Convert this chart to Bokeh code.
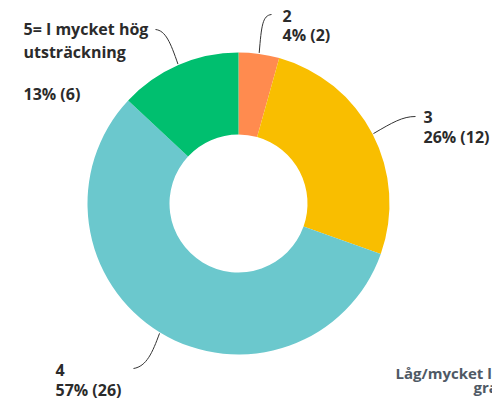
import math
from bokeh.plotting import figure
from bokeh.models import Range1d
from bokeh.core.properties import value
from bokeh.embed import file_html
from bokeh.resources import INLINE

# ---- data ----
categories = ["2", "3", "4", "5= I mycket hög utsträckning"]
counts = [2, 12, 26, 6]
colors = ["#FF8B4F", "#F9BE00", "#6BC8CD", "#00BF6F"]
side_text_lines = ["Låg/mycket låg", "grad"]

W, H = 492, 401
SHIFT = -5.5  # correction for rendered baseline offset


def X(sx):
    return sx


def Y(sy):
    return H - sy


p = figure(width=W, height=H, output_backend="svg", toolbar_location=None,
           x_range=Range1d(0, W), y_range=Range1d(0, H),
           x_axis_type=None, y_axis_type=None, min_border=0)
p.grid.visible = False
p.outline_line_color = None
p.background_fill_color = "white"
p.border_fill_color = "white"

cx, cy = X(238), Y(203)
r_out, r_in = 151, 69
total = sum(counts)
starts, ends, mids = [], [], []
cum = 0
for c in counts:
    a0 = math.pi / 2 - 2 * math.pi * cum / total
    cum += c
    a1 = math.pi / 2 - 2 * math.pi * cum / total
    starts.append(a0)
    ends.append(a1)
    mids.append((a0 + a1) / 2)

p.annular_wedge(x=[cx] * len(counts), y=[cy] * len(counts),
                inner_radius=r_in, outer_radius=r_out,
                start_angle=starts, end_angle=ends, direction="clock",
                fill_color=colors, line_color=None)

pct = [f"{round(100 * c / total)}% ({c})" for c in counts]

# label layout (screen coords): leader controls/end, text anchor, baselines
layout = [
    dict(c0=(261, 25), c1=(262, 15), end=(271, 14), tx=282, lines=[(20.5, categories[0]), (39.5, pct[0])]),
    dict(c0=(392, 122), c1=(402, 116), end=(415, 116), tx=423, lines=[(122.3, categories[1]), (141.7, pct[1])]),
    dict(c0=(152, 352), c1=(146, 366), end=(133, 368), tx=55, lines=[(374.5, categories[2]), (395, pct[2])]),
    dict(c0=(170, 42), c1=(165, 30), end=(155, 29), tx=23,
         lines=[(34.3, "5= I mycket hög"), (57, "utsträckning"), (98.7, pct[3])]),
]

FS = 16
for m, lay in zip(mids, layout):
    x0 = cx + (r_out + 1) * math.cos(m)
    y0 = cy + (r_out + 1) * math.sin(m)
    p.bezier(x0=[x0], y0=[y0],
             cx0=[X(lay["c0"][0])], cy0=[Y(lay["c0"][1])],
             cx1=[X(lay["c1"][0])], cy1=[Y(lay["c1"][1])],
             x1=[X(lay["end"][0])], y1=[Y(lay["end"][1])],
             line_color="#333333", line_width=1)
    for base, t in lay["lines"]:
        p.text(x=[X(lay["tx"])], y=[Y(base + SHIFT)], text=[t],
               text_font=value("Open Sans"), text_font_style="bold",
               text_font_size=f"{FS}px", text_color="#2b2b2b",
               text_align="left", text_baseline="alphabetic")

# partially visible side text (clipped at right edge)
p.text(x=[X(395)], y=[Y(377.5 + SHIFT)], text=[side_text_lines[0]],
       text_font=value("Open Sans"), text_font_style="bold",
       text_font_size="15px", text_color="#4f5965",
       text_align="left", text_baseline="alphabetic")
p.text(x=[X(473)], y=[Y(392 + SHIFT)], text=[side_text_lines[1]],
       text_font=value("Open Sans"), text_font_style="bold",
       text_font_size="15px", text_color="#4f5965",
       text_align="left", text_baseline="alphabetic")

open("out.html", "w").write(file_html(p, INLINE))
